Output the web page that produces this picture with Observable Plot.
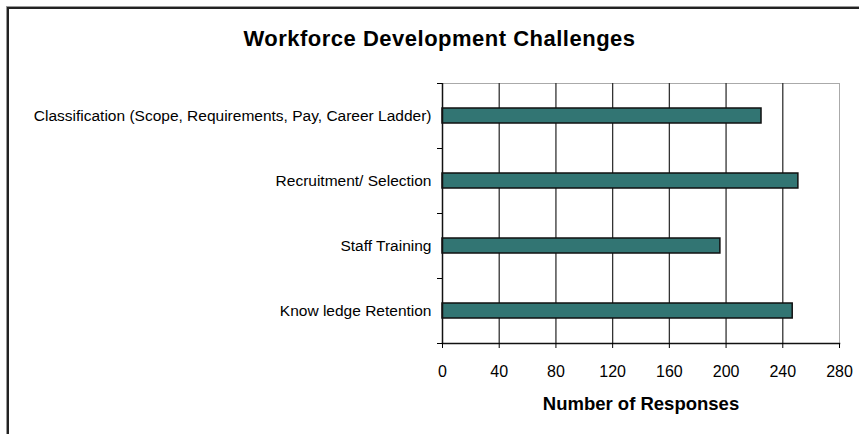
<!DOCTYPE html>
<html>
<head>
<meta charset="utf-8">
<script src="https://cdn.jsdelivr.net/npm/d3@7"></script>
<script src="https://cdn.jsdelivr.net/npm/@observablehq/plot@0.6"></script>
<style>
  body { margin: 0; background: #fff; font-family: Arial, "Liberation Sans", sans-serif; }
  #wrap { position: relative; width: 859px; height: 434px; overflow: hidden; }
  #border { position: absolute; left: 7px; top: 7px; width: 900px; height: 500px;
            border-top: 2px solid #222; border-left: 2px solid #222; box-shadow: -1px -1px 0 #999; }
  #title { position: absolute; left: 0; width: 879px; top: 26px; text-align: center;
           font-weight: bold; font-size: 22px; letter-spacing: 0.5px; color: #000; }
  #chart { position: absolute; left: 0; top: 0; }
  g[aria-label="x-axis label"] text { font-weight: bold; font-size: 18.5px; }
</style>
</head>
<body>
<div id="wrap">
  <div id="border"></div>
  <div id="title">Workforce Development Challenges</div>
  <div id="chart"></div>
</div>
<script>
const categories = [
  "Classification (Scope, Requirements, Pay, Career Ladder)",
  "Recruitment/ Selection",
  "Staff Training",
  "Know ledge Retention"
];
const responses = [225, 251, 196, 247];
const xTicks = [0, 40, 80, 120, 160, 200, 240, 280];
const gridTicks = [40, 80, 120, 160, 200, 240];

const data = categories.map((c, i) => ({category: c, value: responses[i]}));

const plot = Plot.plot({
  width: 859,
  height: 434,
  marginLeft: 442,
  marginRight: 20,
  marginTop: 83,
  marginBottom: 91,
  style: { fontFamily: "Arial, 'Liberation Sans', sans-serif", color: "#000", background: "transparent" },
  x: { domain: [0, 280], label: "Number of Responses" },
  y: { domain: categories, padding: 0, label: null },
  marks: [
    Plot.frame({ stroke: "#aaa" }),
    Plot.gridX({ ticks: gridTicks, stroke: "#333", strokeOpacity: 1, strokeWidth: 1.3 }),
    Plot.barX(data, { x: "value", y: "category", fill: "#327573", stroke: "#111", strokeWidth: 1.5, insetTop: 25, insetBottom: 25 }),
    Plot.ruleX([0], { stroke: "#111", strokeWidth: 1.5 }),
    Plot.frame({ anchor: "bottom", stroke: "#111", strokeWidth: 1.5 }),
    Plot.axisX({ ticks: xTicks, tickSize: 5, tickPadding: 17, fontSize: 16, label: "Number of Responses", labelAnchor: "center", labelOffset: 66, labelArrow: "none" }),
    Plot.axisY({ tickSize: 0, tickPadding: 11, fontSize: 15.5, label: null }),
    Plot.axisY({ tickSize: 5, text: null, dy: -32.5, label: null }),
    Plot.axisY({ ticks: [categories[categories.length - 1]], tickSize: 5, text: null, dy: 32.5, label: null })
  ]
});
document.getElementById("chart").appendChild(plot);
</script>
</body>
</html>
